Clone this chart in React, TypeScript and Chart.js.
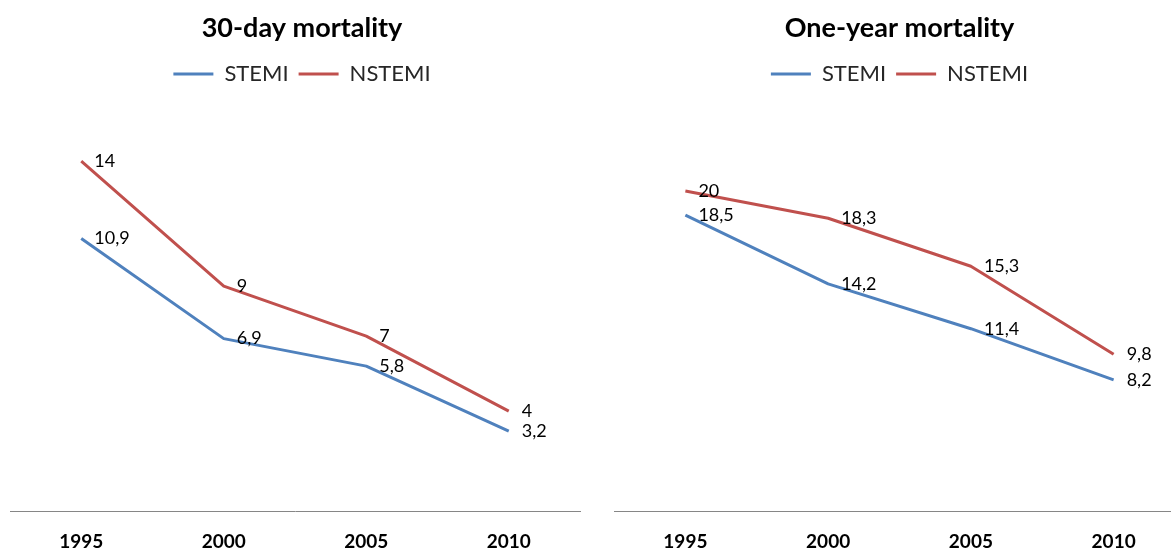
import React, { useEffect, useRef } from "react";
import { Chart, registerables } from "chart.js";
Chart.register(...registerables);

const years = ["1995", "2000", "2005", "2010"];
const seriesNames = ["STEMI", "NSTEMI"];
const stemi30 = [10.9, 6.9, 5.8, 3.2];
const nstemi30 = [14, 9, 7, 4];
const stemi1y = [18.5, 14.2, 11.4, 8.2];
const nstemi1y = [20, 18.3, 15.3, 9.8];
const title30 = "30-day mortality";
const title1y = "One-year mortality";
const yMax30 = 16;
const yMax1y = 25;

const BLUE = "#4F81BD";
const RED = "#C0504D";
const FONT = "Lato, 'Open Sans', sans-serif";
const CANVAS_H = 572;

const labelPlugin = {
  id: "pointValueLabels",
  afterDatasetsDraw(chart: any) {
    const ctx = chart.ctx;
    ctx.save();
    ctx.font = `18px ${FONT}`;
    ctx.fillStyle = "#000";
    ctx.textAlign = "left";
    ctx.textBaseline = "middle";
    chart.data.datasets.forEach((ds: any, i: number) => {
      const meta = chart.getDatasetMeta(i);
      meta.data.forEach((el: any, j: number) => {
        const v = ds.data[j];
        ctx.fillText(String(v).replace(".", ","), el.x + 13, el.y);
      });
    });
    ctx.restore();
  },
};

type Props = {
  title: string;
  stemi: number[];
  nstemi: number[];
  yMax: number;
  left: number;
  width: number;
  yWidth: number;
  padRight: number;
};

function MortalityChart({ title, stemi, nstemi, yMax, left, width, yWidth, padRight }: Props) {
  const ref = useRef<HTMLCanvasElement | null>(null);
  useEffect(() => {
    if (!ref.current) return;
    const chart = new Chart(ref.current, {
      type: "line",
      data: {
        labels: years,
        datasets: [
          {
            label: seriesNames[0],
            data: stemi,
            borderColor: BLUE,
            backgroundColor: BLUE,
            borderWidth: 3,
            pointRadius: 0,
            tension: 0,
            borderJoinStyle: "round",
            xAxisID: "x",
            yAxisID: "y",
          },
          {
            label: seriesNames[1],
            data: nstemi,
            borderColor: RED,
            backgroundColor: RED,
            borderWidth: 3,
            pointRadius: 0,
            tension: 0,
            borderJoinStyle: "round",
            xAxisID: "x",
            yAxisID: "y",
          },
        ],
      },
      options: {
        responsive: false,
        animation: false,
        layout: { padding: { left: 10, right: padRight, top: 0, bottom: 0 } },
        plugins: {
          title: {
            display: true,
            text: title,
            color: "#000",
            font: { family: FONT, size: 27, weight: "bold" },
            padding: { top: 12, bottom: 8.6 },
          },
          legend: {
            display: true,
            position: "top",
            labels: {
              color: "#262626",
              font: { family: FONT, size: 22 },
              boxWidth: 40,
              boxHeight: 3,
              padding: 10,
              generateLabels: (c: any) =>
                c.data.datasets.map((ds: any, i: number) => ({
                  text: ds.label,
                  fillStyle: ds.borderColor,
                  strokeStyle: ds.borderColor,
                  lineWidth: 0,
                  hidden: false,
                  datasetIndex: i,
                  fontColor: "#262626",
                })),
            },
          },
          tooltip: { enabled: false },
        },
        scales: {
          x: {
            type: "category",
            position: "bottom",
            offset: true,
            grid: { display: false, drawTicks: false },
            border: { display: true, color: "#868686", width: 1 },
            ticks: {
              color: "#000",
              font: { family: FONT, size: 19, weight: "bold" },
              padding: 19,
              maxRotation: 0,
            },
          },
          xTop: {
            type: "category",
            position: "top",
            offset: true,
            grid: { display: false, drawTicks: false },
            border: { display: false },
            ticks: { display: false },
            afterFit: (s: any) => {
              s.height = 16;
            },
          },
          y: {
            position: "right",
            min: 0,
            max: yMax,
            display: yWidth > 0,
            grid: { display: false, drawTicks: false },
            border: { display: false },
            ticks: { display: false },
            afterFit: (s: any) => {
              s.width = yWidth;
            },
          },
        },
      } as any,
      plugins: [labelPlugin],
    });
    return () => chart.destroy();
  }, []);
  return (
    <canvas
      ref={ref}
      width={width}
      height={CANVAS_H}
      style={{ position: "absolute", left, top: 0, width, height: CANVAS_H }}
    />
  );
}

export default function App() {
  return (
    <div
      style={{
        position: "fixed",
        left: 0,
        top: 0,
        width: 1171,
        height: 555,
        overflow: "hidden",
        background: "#fff",
      }}
    >
      <MortalityChart
        title={title30}
        stemi={stemi30}
        nstemi={nstemi30}
        yMax={yMax30}
        left={0}
        width={594}
        yWidth={14}
        padRight={0}
      />
      <MortalityChart
        title={title1y}
        stemi={stemi1y}
        nstemi={nstemi1y}
        yMax={yMax1y}
        left={604}
        width={591}
        yWidth={0}
        padRight={10}
      />
    </div>
  );
}
